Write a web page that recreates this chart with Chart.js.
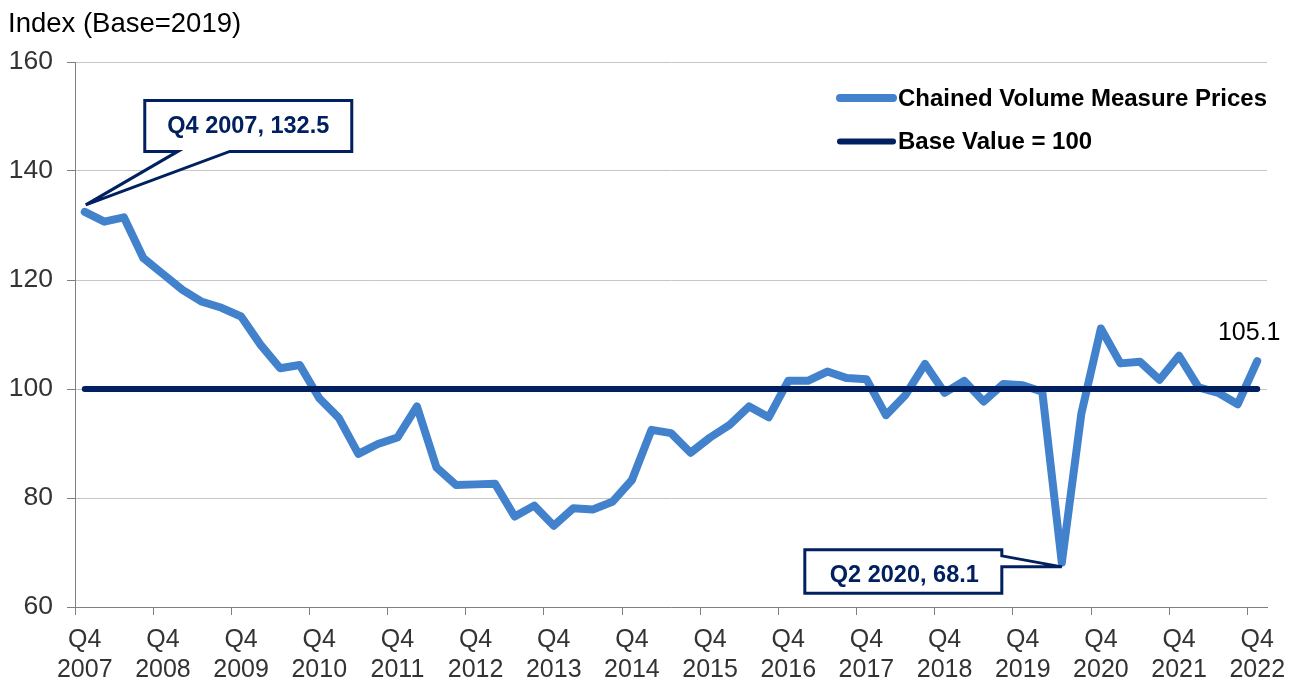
<!DOCTYPE html>
<html>
<head>
<meta charset="utf-8">
<script src="https://cdn.jsdelivr.net/npm/chart.js@4.4.0/dist/chart.umd.min.js"></script>
<style>
html,body{margin:0;padding:0;background:#ffffff;overflow:hidden;}
#wrap{position:absolute;left:0;top:0;width:1301px;height:681px;}
</style>
</head>
<body>
<div id="wrap"><canvas id="c" width="1301" height="681"></canvas></div>
<script>
// ---- data ----
const quarters = [
  'Q4 2007',
  'Q1 2008','Q2 2008','Q3 2008','Q4 2008',
  'Q1 2009','Q2 2009','Q3 2009','Q4 2009',
  'Q1 2010','Q2 2010','Q3 2010','Q4 2010',
  'Q1 2011','Q2 2011','Q3 2011','Q4 2011',
  'Q1 2012','Q2 2012','Q3 2012','Q4 2012',
  'Q1 2013','Q2 2013','Q3 2013','Q4 2013',
  'Q1 2014','Q2 2014','Q3 2014','Q4 2014',
  'Q1 2015','Q2 2015','Q3 2015','Q4 2015',
  'Q1 2016','Q2 2016','Q3 2016','Q4 2016',
  'Q1 2017','Q2 2017','Q3 2017','Q4 2017',
  'Q1 2018','Q2 2018','Q3 2018','Q4 2018',
  'Q1 2019','Q2 2019','Q3 2019','Q4 2019',
  'Q1 2020','Q2 2020','Q3 2020','Q4 2020',
  'Q1 2021','Q2 2021','Q3 2021','Q4 2021',
  'Q1 2022','Q2 2022','Q3 2022','Q4 2022'
];

const chainedVolumePrices = [
  132.5,
  130.7, 131.5, 124.0, 121.1,
  118.2, 116.0, 114.9, 113.3,
  108.1, 103.8, 104.4, 98.3,
  94.7, 88.1, 89.9, 91.1,
  96.8, 85.6, 82.4, 82.5,
  82.6, 76.6, 78.6, 74.9,
  78.1, 77.9, 79.3, 83.3,
  92.5, 91.9, 88.3, 91.1,
  93.4, 96.8, 94.8, 101.5,
  101.5, 103.2, 102.0, 101.8,
  95.2, 98.9, 104.6, 99.3,
  101.5, 97.7, 100.9, 100.7,
  99.5, 68.1, 95.5, 111.1,
  104.7, 105.0, 101.7, 106.1,
  100.3, 99.3, 97.2, 105.1
];

const baseValue = [
  100,
  100,100,100,100, 100,100,100,100, 100,100,100,100,
  100,100,100,100, 100,100,100,100, 100,100,100,100,
  100,100,100,100, 100,100,100,100, 100,100,100,100,
  100,100,100,100, 100,100,100,100, 100,100,100,100,
  100,100,100,100, 100,100,100,100, 100,100,100,100
];

const seriesLabels = ['Chained Volume Measure Prices', 'Base Value = 100'];
const yTickValues = [60, 80, 100, 120, 140, 160];
const axisTitle = 'Index (Base=2019)';
const calloutIndices = [0, 50];   // Q4 2007 and Q2 2020
const endLabelIndex = 60;         // Q4 2022

// ---- styles ----
const FONT = "'Liberation Sans', Arial, sans-serif";
const BLUE = '#4281CB';
const NAVY = '#002060';

// ---- plugins ----
const legendPlugin = {
  id: 'insideLegend',
  afterDraw(chart) {
    const ctx = chart.ctx;
    const ds = chart.data.datasets;
    const rows = [98, 141.5];
    ctx.save();
    ds.forEach((d, i) => {
      const y = rows[i];
      ctx.beginPath();
      ctx.lineCap = 'round';
      ctx.strokeStyle = d.borderColor;
      ctx.lineWidth = d.borderWidth;
      ctx.moveTo(840, y);
      ctx.lineTo(893, y);
      ctx.stroke();
      ctx.fillStyle = '#000000';
      ctx.font = 'bold 24px ' + FONT;
      ctx.textAlign = 'left';
      ctx.textBaseline = 'middle';
      ctx.fillText(d.label, 898, y + 1);
    });
    ctx.restore();
  }
};

const calloutPlugin = {
  id: 'callouts',
  afterDatasetsDraw(chart) {
    const ctx = chart.ctx;
    const xs = chart.scales.x, ys = chart.scales.y;
    const data = chart.data.datasets[0].data;
    ctx.save();
    ctx.lineJoin = 'miter';
    ctx.lineWidth = 3;
    ctx.strokeStyle = NAVY;
    ctx.fillStyle = '#ffffff';

    // callout 1 (upper right of first point)
    {
      const i = calloutIndices[0];
      const px = xs.getPixelForValue(i), py = ys.getPixelForValue(data[i]);
      const L = px + 60, R = px + 267, T = py - 111.5, B = py - 60.5;
      ctx.beginPath();
      ctx.moveTo(L, T);
      ctx.lineTo(R, T);
      ctx.lineTo(R, B);
      ctx.lineTo(px + 145, B);
      ctx.lineTo(px + 1, py - 7);
      ctx.lineTo(px + 93, B);
      ctx.lineTo(L, B);
      ctx.closePath();
      ctx.fill();
      ctx.stroke();
      ctx.fillStyle = NAVY;
      ctx.font = 'bold 23.5px ' + FONT;
      ctx.textAlign = 'center';
      ctx.textBaseline = 'middle';
      ctx.fillText(quarters[i] + ', ' + data[i].toFixed(1), (L + R) / 2, (T + B) / 2 + 1);
    }

    // callout 2 (left of the dip)
    {
      const i = calloutIndices[1];
      const px = xs.getPixelForValue(i), py = ys.getPixelForValue(data[i]);
      const L = px - 257, R = px - 60, T = py - 13, B = py + 30.5;
      ctx.fillStyle = '#ffffff';
      ctx.beginPath();
      ctx.moveTo(L, T);
      ctx.lineTo(R, T);
      ctx.lineTo(R, py - 7);
      ctx.lineTo(px, py + 4);
      ctx.lineTo(R, py + 4);
      ctx.lineTo(R, B);
      ctx.lineTo(L, B);
      ctx.closePath();
      ctx.fill();
      ctx.stroke();
      ctx.fillStyle = NAVY;
      ctx.font = 'bold 23.5px ' + FONT;
      ctx.textAlign = 'center';
      ctx.textBaseline = 'middle';
      ctx.fillText(quarters[i] + ', ' + data[i].toFixed(1), (L + R) / 2 + 1, py + 12.5);
    }

    // end value label
    {
      const i = endLabelIndex;
      const px = xs.getPixelForValue(i), py = ys.getPixelForValue(data[i]);
      ctx.fillStyle = '#000000';
      ctx.font = '25px ' + FONT;
      ctx.textAlign = 'center';
      ctx.textBaseline = 'middle';
      ctx.fillText(data[i].toFixed(1), px - 8, py - 28);
    }
    ctx.restore();
  }
};

// ---- chart ----
new Chart(document.getElementById('c'), {
  type: 'line',
  data: {
    labels: quarters,
    datasets: [
      {
        label: seriesLabels[0],
        data: chainedVolumePrices,
        borderColor: BLUE,
        backgroundColor: BLUE,
        borderWidth: 8,
        pointRadius: 0,
        tension: 0,
        borderJoinStyle: 'round',
        borderCapStyle: 'round',
        order: 2
      },
      {
        label: seriesLabels[1],
        data: baseValue,
        borderColor: NAVY,
        backgroundColor: NAVY,
        borderWidth: 6,
        pointRadius: 0,
        tension: 0,
        borderCapStyle: 'round',
        order: 1
      }
    ]
  },
  options: {
    responsive: false,
    animation: false,
    devicePixelRatio: 1,
    layout: { padding: { left: 8, right: 34, top: 0, bottom: 0 } },
    plugins: {
      legend: { display: false },
      tooltip: { enabled: false },
      title: {
        display: true,
        text: axisTitle,
        align: 'start',
        color: '#000000',
        font: { family: FONT, size: 27.5, weight: 'normal', lineHeight: 1.2 },
        padding: { top: 8, bottom: 21 }
      }
    },
    scales: {
      x: {
        type: 'category',
        offset: true,
        afterFit(scale) { scale.height = 74; },
        border: { display: true, color: '#808080', width: 1 },
        grid: {
          display: true,
          offset: true,
          drawOnChartArea: false,
          drawTicks: true,
          tickLength: 8,
          tickColor: (c) => (c.index % 4 === 0 ? '#808080' : 'rgba(0,0,0,0)')
        },
        ticks: {
          autoSkip: false,
          maxRotation: 0,
          minRotation: 0,
          padding: 10,
          color: '#333333',
          font: { family: FONT, size: 25, lineHeight: 1.2 },
          callback: function (v, i) {
            const q = quarters[i];
            return q.startsWith('Q4') ? q.split(' ') : '';
          }
        }
      },
      y: {
        min: 60,
        max: 160,
        afterFit(scale) { scale.width = 67; },
        afterBuildTicks(scale) { scale.ticks = yTickValues.map(v => ({ value: v })); },
        border: { display: true, color: '#808080', width: 1 },
        grid: {
          color: '#C6C6C6',
          lineWidth: 1,
          drawTicks: true,
          tickLength: 8,
          tickColor: '#808080'
        },
        ticks: {
          padding: 14,
          color: '#333333',
          font: { family: FONT, size: 26.5 }
        }
      }
    }
  },
  plugins: [calloutPlugin, legendPlugin]
});
</script>
</body>
</html>
